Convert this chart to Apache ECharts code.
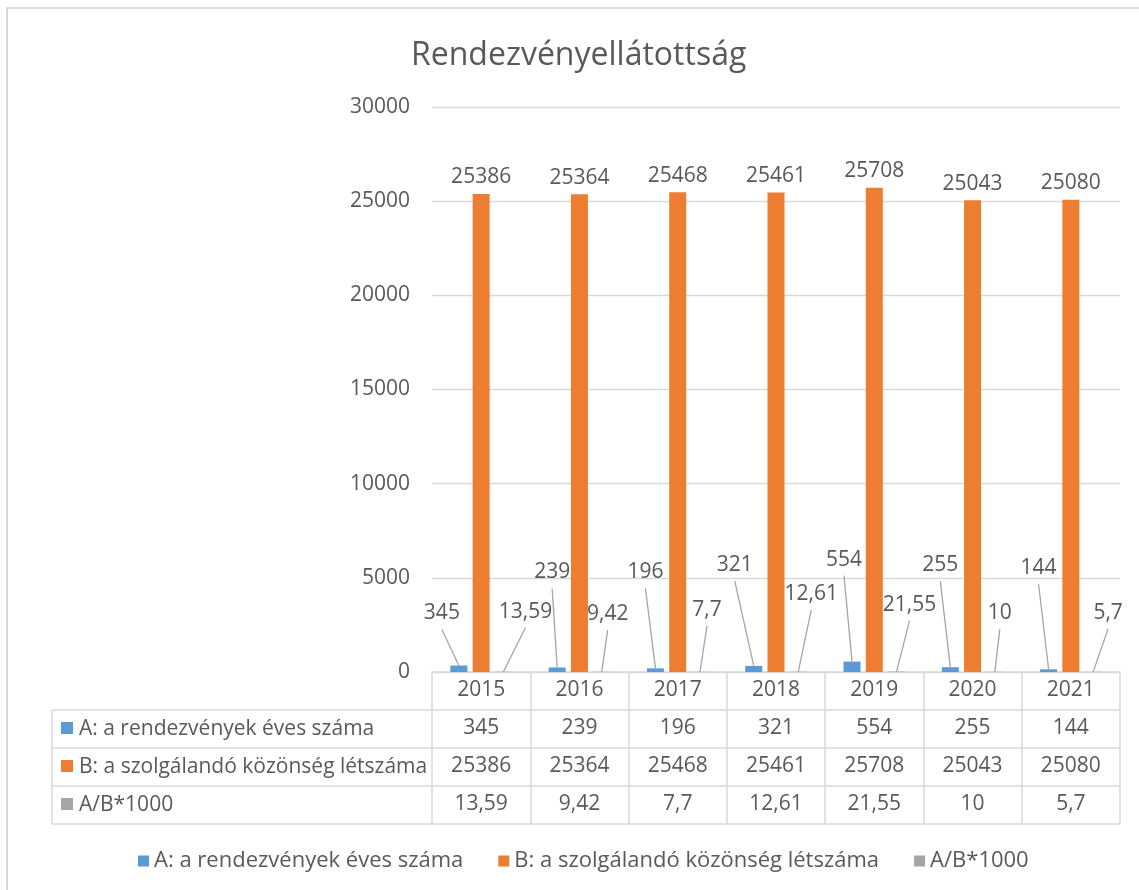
<!DOCTYPE html>
<html>
<head>
<meta charset="utf-8">
<script src="https://cdn.jsdelivr.net/npm/echarts@6/dist/echarts.min.js"></script>
<style>
html,body{margin:0;padding:0;background:#fff;}
#main{width:1139px;height:890px;}
</style>
</head>
<body>
<div id="main"></div>
<script>
// ---- data ----
const categories = ['2015', '2016', '2017', '2018', '2019', '2020', '2021'];
const seriesNames = ['A: a rendezvények éves száma', 'B: a szolgálandó közönség létszáma', 'A/B*1000'];
const eventsA = [345, 239, 196, 321, 554, 255, 144];
const audienceB = [25386, 25364, 25468, 25461, 25708, 25043, 25080];
const ratioAB = [13.59, 9.42, 7.7, 12.61, 21.55, 10, 5.7];
const yMin = 0, yMax = 30000, yStep = 5000;

// ---- style ----
const FONT = '"Open Sans"';
const FS = 21;
const TXT = '#595959';
const LINE = '#d9d9d9';
const LEADER = '#a6a6a6';
const colors = ['#5b9bd5', '#ed7d31', '#a5a5a5'];
const BAR_W = 17, BAR_GAP = 0.31;
const fmt = v => String(v).replace('.', ',');
// label offsets (px, label centre relative to bar top centre) reproducing the original manual placement
const labelOffA = [[-17, -52], [-5, -95], [-10, -96], [-19, -101], [-8, -102], [-10, -102], [-10, -101]];
const labelOffC = [[22, -60], [6, -58], [7, -62], [13, -78], [13, -67], [5, -59], [15, -59]];

const gridLeft = 432, gridRight = 19, gridTop = 107, gridBottom = 218;
const rowH = 38;
const tableLeft = 52;
const chartW = 1139, chartH = 890;
const axisY = chartH - gridBottom;

const tableRows = [eventsA, audienceB, ratioAB];

const xAxes = [{
  type: 'category', data: categories, gridIndex: 0, position: 'bottom',
  axisLine: {show: true, lineStyle: {color: LINE, width: 1.5}},
  axisTick: {show: true, length: rowH * 4, lineStyle: {color: LINE, width: 1.5}},
  axisLabel: {color: TXT, fontFamily: FONT, fontSize: FS, margin: 8}
}];
tableRows.forEach((row, k) => {
  xAxes.push({
    type: 'category', data: row.map(fmt), gridIndex: 0, position: 'bottom',
    offset: rowH * (k + 1),
    axisLine: {show: false}, axisTick: {show: false}, splitLine: {show: false},
    axisLabel: {color: TXT, fontFamily: FONT, fontSize: FS, margin: 8, interval: 0}
  });
});

const graphics = [
  {type: 'rect', shape: {x: 7, y: 8, width: 1200, height: 1000},
   style: {fill: 'none', stroke: LINE, lineWidth: 2}, silent: true}
];
for (let r = 1; r <= 4; r++) {
  graphics.push({type: 'line', shape: {x1: tableLeft, y1: axisY + rowH * r, x2: chartW - gridRight, y2: axisY + rowH * r},
    style: {stroke: LINE, lineWidth: 1.5}, silent: true});
}
graphics.push({type: 'line', shape: {x1: tableLeft, y1: axisY + rowH, x2: tableLeft, y2: axisY + rowH * 4},
  style: {stroke: LINE, lineWidth: 1.5}, silent: true});
seriesNames.forEach((name, k) => {
  const cy = axisY + rowH * (k + 1) + rowH / 2;
  graphics.push({type: 'rect', shape: {x: tableLeft + 9, y: cy - 7, width: 12, height: 12},
    style: {fill: colors[k]}, silent: true});
  graphics.push({type: 'text', x: tableLeft + 27, y: cy,
    style: {text: name, fill: TXT, font: FS + 'px ' + FONT, verticalAlign: 'middle'}, silent: true});
});

// data labels with leader lines, positioned from the axis scale
function labelRenderer(offsets, side) {
  return function (params, api) {
    const i = params.dataIndex;
    const v = api.value(1);
    const p = api.coord([api.value(0), v]);
    const bx = p[0] + side * BAR_W * (1 + BAR_GAP);
    const by = p[1];
    const lx = bx + offsets[i][0];
    const ly = by + offsets[i][1];
    return {
      type: 'group',
      children: [
        {type: 'line', shape: {x1: bx, y1: by, x2: lx, y2: ly + 16},
         style: {stroke: LEADER, lineWidth: 1.3}},
        {type: 'text', x: lx, y: ly,
         style: {text: fmt(v), fill: TXT, font: FS + 'px ' + FONT, align: 'center', verticalAlign: 'middle'}}
      ]
    };
  };
}

const option = {
  animation: false,
  backgroundColor: '#fff',
  color: colors,
  title: {text: 'Rendezvényellátottság', left: 406, top: 35,
    textStyle: {color: TXT, fontFamily: FONT, fontSize: 32, fontWeight: 'normal'}},
  legend: {top: 845, left: 133, icon: 'rect', itemWidth: 11, itemHeight: 11, itemGap: 35,
    textStyle: {color: TXT, fontFamily: FONT, fontSize: 22}, data: seriesNames},
  grid: {left: gridLeft, right: gridRight, top: gridTop, bottom: gridBottom, containLabel: false},
  xAxis: xAxes,
  yAxis: {type: 'value', min: yMin, max: yMax, interval: yStep,
    axisLine: {show: false}, axisTick: {show: false},
    splitLine: {lineStyle: {color: LINE, width: 1.3}},
    axisLabel: {color: TXT, fontFamily: FONT, fontSize: FS, margin: 22, formatter: v => String(v)}},
  graphic: graphics,
  series: [
    {name: seriesNames[0], type: 'bar', data: eventsA, barWidth: BAR_W, barGap: (BAR_GAP * 100) + '%'},
    {name: seriesNames[1], type: 'bar', data: audienceB, barWidth: BAR_W, barGap: (BAR_GAP * 100) + '%',
     label: {show: true, position: 'top', distance: 6, color: TXT, fontFamily: FONT, fontSize: FS}},
    {name: seriesNames[2], type: 'bar', data: ratioAB, barWidth: BAR_W, barGap: (BAR_GAP * 100) + '%'},
    {name: 'labelsA', type: 'custom', coordinateSystem: 'cartesian2d', clip: false, z: 5, silent: true,
     data: eventsA.map((v, i) => [i, v]), renderItem: labelRenderer(labelOffA, -1)},
    {name: 'labelsC', type: 'custom', coordinateSystem: 'cartesian2d', clip: false, z: 5, silent: true,
     data: ratioAB.map((v, i) => [i, v]), renderItem: labelRenderer(labelOffC, 1)}
  ]
};

const chart = echarts.init(document.getElementById('main'), null, {renderer: 'canvas'});
chart.setOption(option);
</script>
</body>
</html>
